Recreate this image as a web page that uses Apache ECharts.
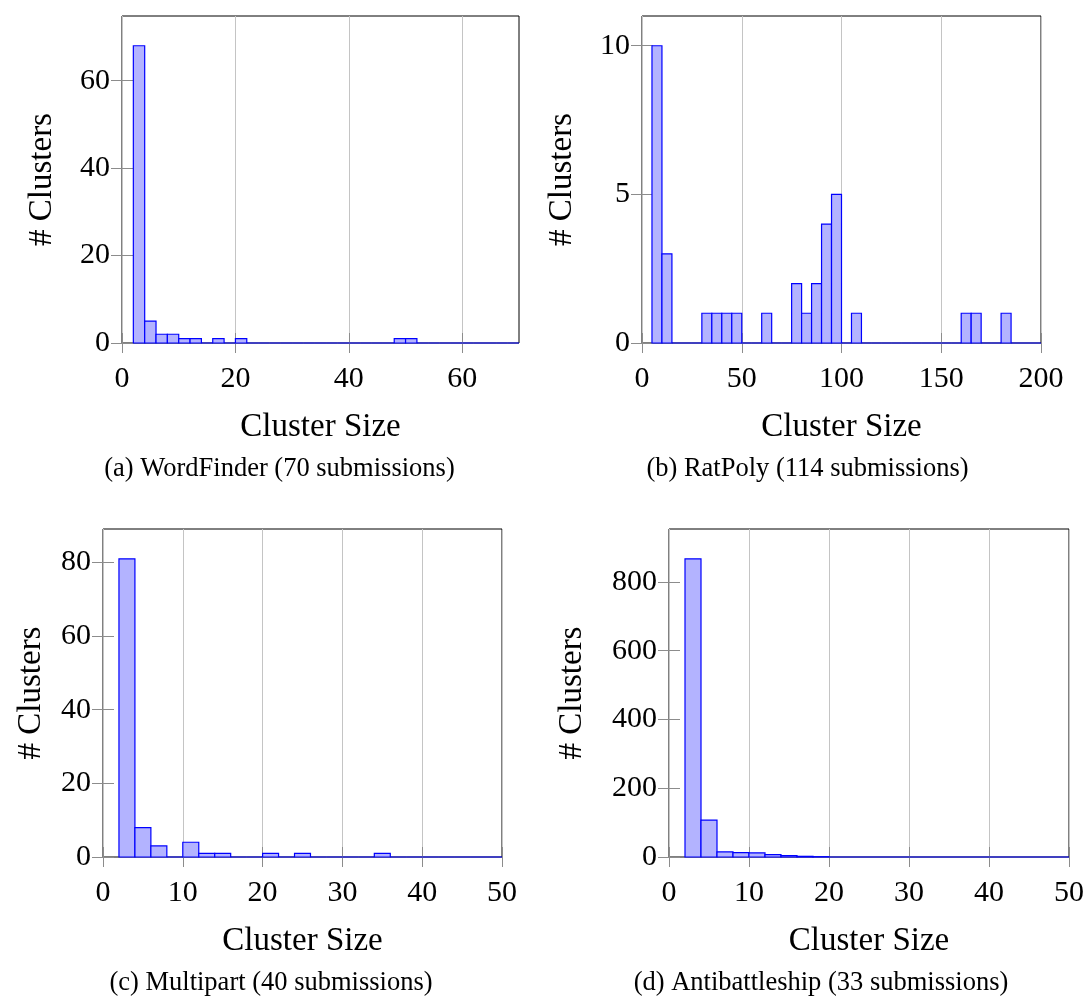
<!DOCTYPE html>
<html>
<head>
<meta charset="utf-8">
<script src="https://cdn.jsdelivr.net/npm/echarts@6/dist/echarts.min.js"></script>
<style>
html,body{margin:0;padding:0;background:#fff;}
#c{width:1091px;height:1002px;}
</style>
</head>
<body>
<div id="c"></div>
<script>
// ---- Data ----
// (a) WordFinder: bin left edges (width 2) and counts
const binsA = [2,4,6,8,10,12,14,16,18,20,22,24,26,28,30,32,34,36,38,40,42,44,46,48,50,52,54,56,58,60,62,64,66,68];
const countsA = [68,5,2,2,1,1,0,1,0,1,0,0,0,0,0,0,0,0,0,0,0,0,0,1,1,0,0,0,0,0,0,0,0,0];
const widthA = 2;
// (b) RatPoly: bin left edges (width 5) and counts
const binsB = [5,10,15,20,25,30,35,40,45,50,55,60,65,70,75,80,85,90,95,100,105,110,115,120,125,130,135,140,145,150,155,160,165,170,175,180,185,190,195];
const countsB = [10,3,0,0,0,1,1,1,1,0,0,1,0,0,2,1,2,4,5,0,1,0,0,0,0,0,0,0,0,0,0,1,1,0,0,1,0,0,0];
const widthB = 5;
// (c) Multipart
const binsC = [2,4,6,8,10,12,14,16,18,20,22,24,26,28,30,32,34,36,38,40,42,44,46,48];
const countsC = [81,8,3,0,4,1,1,0,0,1,0,1,0,0,0,0,1,0,0,0,0,0,0,0];
const widthC = 2;
// (d) Antibattleship
const binsD = [2,4,6,8,10,12,14,16,18,20,22,24,26,28,30,32,34,36,38,40,42,44,46,48];
const countsD = [867,107,15,13,12,7,4,2,1,0,0,0,0,0,0,0,0,0,0,0,0,0,0,0];
const widthD = 2;

// tick labels
const xTicksA = [0,20,40,60];
const xTicksB = [0,50,100,150,200];
const xTicksCD = [0,10,20,30,40,50];
const yTicksA = [0,20,40,60];
const yTicksB = [0,5,10];
const yTicksC = [0,20,40,60,80];
const yTicksD = [0,200,400,600,800];

const captions = ['(a) WordFinder (70 submissions)','(b) RatPoly (114 submissions)','(c) Multipart (40 submissions)','(d) Antibattleship (33 submissions)'];
const xName = 'Cluster Size';
const yName = '# Clusters';

// ---- Layout / style ----
const FONT = 'Liberation Serif';
const panels = [
  {bins:binsA, counts:countsA, w:widthA, xmax:70, xint:10, xt:xTicksA, yt:yTicksA, ymax:74.8,
   grid:{left:122, top:16, width:397, height:327}, ygap:63, cap:[279.5,469]},
  {bins:binsB, counts:countsB, w:widthB, xmax:200, xint:50, xt:xTicksB, yt:yTicksB, ymax:11,
   grid:{left:642, top:16, width:399, height:327}, ygap:63, cap:[807.5,469]},
  {bins:binsC, counts:countsC, w:widthC, xmax:50, xint:10, xt:xTicksCD, yt:yTicksC, ymax:89.1,
   grid:{left:103, top:529, width:399, height:328}, ygap:55, cap:[271,983]},
  {bins:binsD, counts:countsD, w:widthD, xmax:50, xint:10, xt:xTicksCD, yt:yTicksD, ymax:953.7,
   grid:{left:669, top:529, width:400, height:328}, ygap:80, cap:[821,983]}
];

const grids = [], xAxes = [], yAxes = [], series = [], graphics = [];
const tickColor = '#8c8c8c';
panels.forEach((p, i) => {
  grids.push(Object.assign({show:true, borderColor:'#000', borderWidth:1, backgroundColor:'transparent'}, p.grid));
  // bottom x axis
  xAxes.push({
    gridIndex:i, type:'value', position:'bottom', min:0, max:p.xmax, interval:p.xint,
    axisLine:{show:false},
    axisTick:{show:true, inside:false, length:10, customValues:p.xt, lineStyle:{color:tickColor, width:1}},
    axisLabel:{show:true, customValues:p.xt, fontFamily:FONT, fontSize:30, color:'#000', margin:21},
    splitLine:{show:true, lineStyle:{color:'#c4c4c4', width:1}},
    name:xName, nameLocation:'middle', nameGap:68,
    nameTextStyle:{fontFamily:FONT, fontSize:33, color:'#000'}
  });
  // top x axis (ticks only)
  xAxes.push({
    gridIndex:i, type:'value', position:'top', min:0, max:p.xmax, interval:p.xint,
    axisLine:{show:false},
    axisTick:{show:true, inside:false, length:10, customValues:p.xt, lineStyle:{color:tickColor, width:1}},
    axisLabel:{show:false}, splitLine:{show:false}
  });
  // left y axis
  yAxes.push({
    gridIndex:i, type:'value', position:'left', min:0, max:p.ymax,
    axisLine:{show:false},
    axisTick:{show:true, inside:true, length:11, customValues:p.yt, lineStyle:{color:tickColor, width:1}},
    axisLabel:{show:true, customValues:p.yt, fontFamily:FONT, fontSize:30, color:'#000', margin:12},
    splitLine:{show:false},
    name:yName, nameLocation:'middle', nameGap:p.ygap, nameRotate:90,
    nameTextStyle:{fontFamily:FONT, fontSize:33, color:'#000'}
  });
  // right y axis (ticks only)
  yAxes.push({
    gridIndex:i, type:'value', position:'right', min:0, max:p.ymax,
    axisLine:{show:false},
    axisTick:{show:true, inside:true, length:11, customValues:p.yt, lineStyle:{color:tickColor, width:1}},
    axisLabel:{show:false}, splitLine:{show:false}
  });
  const data = p.bins.map((b, k) => [b, b + p.w, p.counts[k]]);
  series.push({
    type:'custom', xAxisIndex:2*i, yAxisIndex:2*i, data:data, silent:true, clip:false,
    encode:{x:[0,1], y:2},
    renderItem:function(params, api){
      const a = api.coord([api.value(0), api.value(2)]);
      const b = api.coord([api.value(1), 0]);
      return {type:'rect', shape:{x:a[0], y:a[1], width:b[0]-a[0], height:b[1]-a[1]},
              style:{fill:'#b3b3ff', stroke:'#0000ff', lineWidth:1.2}};
    }
  });
  graphics.push({type:'text', x:p.cap[0], y:p.cap[1],
    style:{text:captions[i], fontFamily:FONT, fontSize:26.5, fill:'#000', align:'center', verticalAlign:'middle'}});
});

const chart = echarts.init(document.getElementById('c'), null, {renderer:'canvas'});
chart.setOption({
  animation:false,
  backgroundColor:'#fff',
  grid:grids, xAxis:xAxes, yAxis:yAxes, series:series, graphic:graphics
});
</script>
</body>
</html>
